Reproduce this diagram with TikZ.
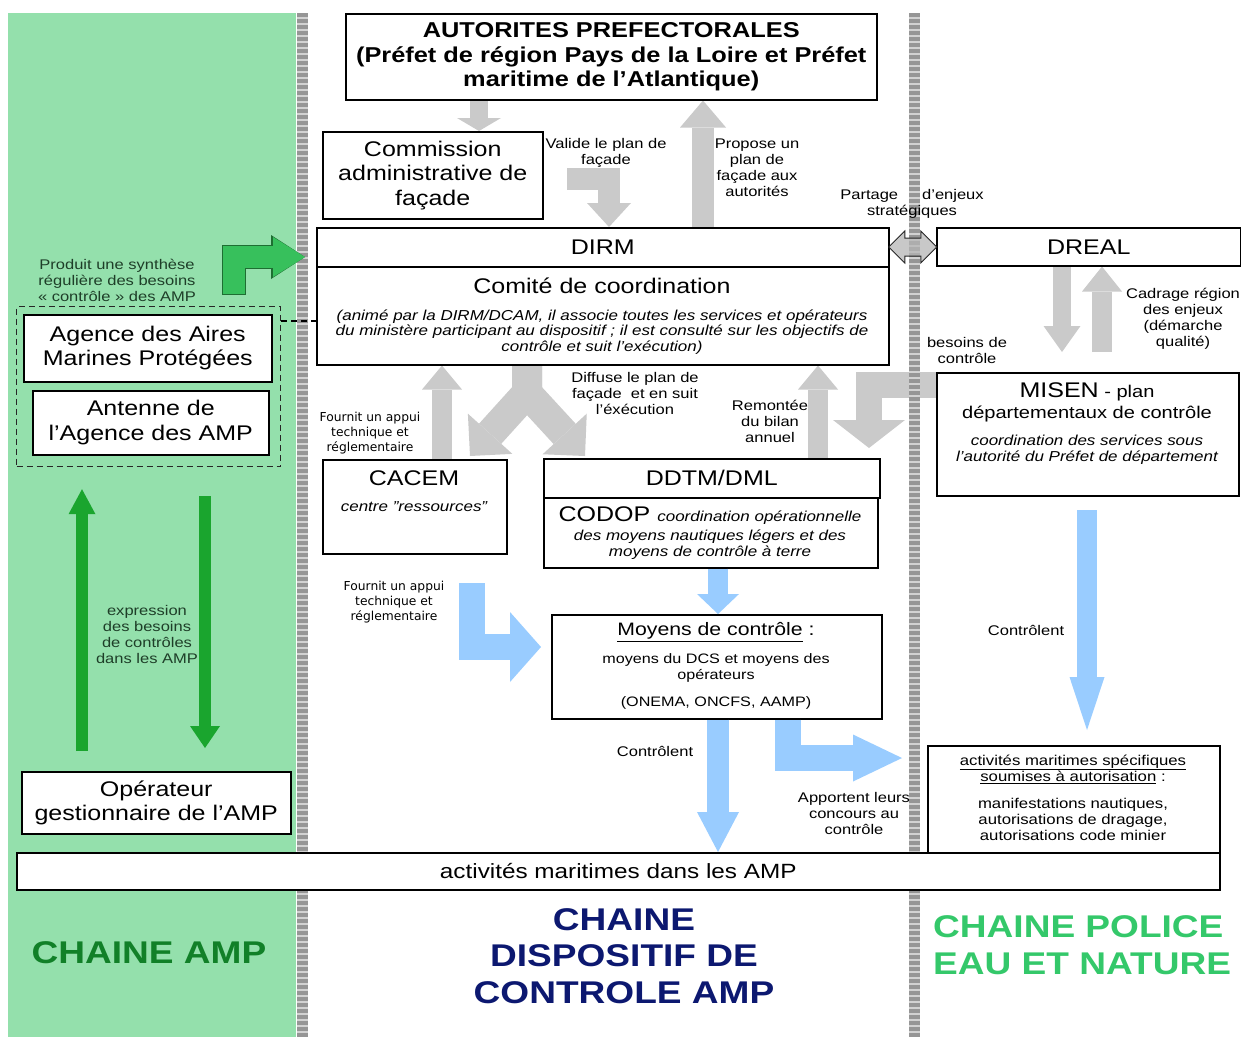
\documentclass[tikz,border=0pt]{standalone}
\usepackage{fontspec}
\setmainfont{Liberation Sans}[FakeStretch=1.18]
\newfontfamily\dejavufont{DejaVu Sans}
\usetikzlibrary{arrows.meta,shapes.arrows,backgrounds,calc}

\definecolor{amppanel}{RGB}{148,224,172}
\definecolor{arrowgray}{RGB}{202,202,202}
\definecolor{arrowblue}{RGB}{153,204,255}
\definecolor{ampgreen}{RGB}{26,165,46}
\definecolor{synthgreen}{RGB}{55,192,92}
\definecolor{synthedge}{RGB}{30,110,50}
\definecolor{notegreen}{RGB}{30,62,40}
\definecolor{titlegreen}{RGB}{17,128,40}
\definecolor{titlenavy}{RGB}{12,24,112}
\definecolor{titlelight}{RGB}{52,200,106}
\definecolor{divgray}{RGB}{150,150,150}

\newcommand{\boxtxt}{\fontsize{21.2}{24.5}\selectfont}
\newcommand{\titletxt}{\fontsize{21.5}{24.5}\selectfont\bfseries}
\newcommand{\notetxt}{\fontsize{14}{16}\selectfont}
\newcommand{\ittxt}{\fontsize{14.4}{15.8}\selectfont\itshape}
\newcommand{\subtxt}{\fontsize{17}{21}\selectfont}
\newcommand{\smalltxt}{\fontsize{13.7}{16}\selectfont}
\newcommand{\appuitxt}{\dejavufont\fontsize{12.3}{15}\selectfont}
\newcommand{\chaintxt}{\fontsize{31.4}{36.5}\selectfont\bfseries}

\tikzset{
  box/.style={draw=black, line width=1.5pt, fill=white, inner sep=0pt, align=center, anchor=north west, font=\boxtxt},
  txt/.style={inner sep=0pt, align=center},
  note/.style={txt, font=\notetxt},
  appui/.style={txt, font=\appuitxt},
  grayflow/.style={draw=arrowgray, line join=miter},
  blueflow/.style={draw=arrowblue, line join=miter},
  flowtip/.style 2 args={-{Triangle[length=#1,width=#2,line width=0pt]}},
  divider/.style={draw=divgray, line width=11pt, dash pattern=on 4pt off 2pt},
}

\begin{document}
\begin{tikzpicture}[x=1pt,y=-1pt]
\useasboundingbox (0,0) rectangle (1241,1037);

% boites
\node[box, font=\titletxt, minimum width=531pt, minimum height=86pt] (autorites) at (345,13) {AUTORITES PREFECTORALES\\(Préfet de région Pays de la Loire et Préfet\\maritime de l'Atlantique)};
\node[box, minimum width=220pt, minimum height=87pt] (commission) at (322,131) {Commission\\administrative de\\façade};
\node[box, minimum width=572pt, minimum height=39pt] (dirm) at (316,227) {DIRM};
\node[box, minimum width=572pt, minimum height=98pt] (comite) at (316,266) {};
\node[txt, font=\boxtxt] (comitetitle) at (602,286) {Comité de coordination};
\node[txt, font=\ittxt] (comitetext) at (602,332) {(animé par la DIRM/DCAM, il associe toutes les services et opérateurs\\du ministère participant au dispositif ; il est consulté sur les objectifs de\\contrôle et suit l'exécution)};
\node[box, minimum width=304pt, minimum height=38pt] (dreal) at (936,227) {DREAL};
\node[box, minimum width=302pt, minimum height=123pt] (misen) at (936,372) {};
\node[txt, font=\subtxt] (misentitle) at (1087,402) {{\boxtxt MISEN} - plan\\départementaux de contrôle};
\node[txt, font=\ittxt] (misentext) at (1087,450) {coordination des services sous\\l'autorité du Préfet de département};
\node[box, minimum width=184pt, minimum height=94pt] (cacem) at (322,459) {};
\node[txt, font=\boxtxt] (cacemtitle) at (414,478) {CACEM};
\node[txt, font=\ittxt] (cacemtext) at (414,507) {centre "ressources"};
\node[box, minimum width=336pt, minimum height=39pt] (ddtm) at (543,458) {DDTM/DML};
\node[box, minimum width=334pt, minimum height=70pt] (codop) at (543,497) {};
\node[txt, font=\boxtxt] (codoptitle) at (710,516) {CODOP {\ittxt coordination opérationnelle}};
\node[txt, font=\ittxt] (codoptext) at (710,545) {des moyens nautiques légers et des\\moyens de contrôle à terre};
\node[box, minimum width=330pt, minimum height=104pt] (moyens) at (551,614) {};
\node[txt, font=\fontsize{18}{20}\selectfont] (moyenstitle) at (716,632) {\underline{Moyens de contrôle} :};
\node[txt, font=\smalltxt] (moyenstext) at (716,668) {moyens du DCS et moyens des\\opérateurs};
\node[txt, font=\smalltxt] (moyensops) at (716,703) {(ONEMA, ONCFS, AAMP)};
\node[box, minimum width=292pt, minimum height=107pt] (specifiques) at (927,745) {};
\node[txt, font=\fontsize{14.2}{16}\selectfont] (specifhead) at (1073,769) {\underline{activités maritimes spécifiques}\\\underline{soumises à autorisation} :};
\node[txt, font=\fontsize{14.2}{16}\selectfont] (speciftext) at (1073,819) {manifestations nautiques,\\autorisations de dragage,\\autorisations code minier};
\node[box, minimum width=1203pt, minimum height=37pt, font=\fontsize{20.6}{24}\selectfont] (activites) at (16,852) {activités maritimes dans les AMP};

\node[draw=black!85, line width=1.2pt, dash pattern=on 6pt off 4pt, minimum width=264pt, minimum height=160pt, inner sep=0pt, anchor=north west] (agencegrp) at (16,306) {};
\node[box, minimum width=248pt, minimum height=67pt] (agence) at (23,314) {Agence des Aires\\Marines Protégées};
\node[box, minimum width=236pt, minimum height=64pt] (antenne) at (32,390) {Antenne de\\l'Agence des AMP};
\node[box, minimum width=269pt, minimum height=62pt] (operateur) at (21,771) {Opérateur\\gestionnaire de l'AMP};

% bouts libres des fleches
\coordinate (valstart) at (567,179);
\coordinate (drealtip) at (1062,352);
\coordinate (cadragefoot) at (1102,352);
\coordinate (diffjoin) at (527,393);
\coordinate (difftipl) at (470,456);
\coordinate (difftipr) at (585,456);
\coordinate (misentip) at (869,448);
\coordinate (synthfoot) at (234,295);
\coordinate (synthtip) at (305,257);
\coordinate (appuifoot) at (472,583);
\coordinate (appuitip) at (541,647);
\coordinate (apporttip) at (902,758);
\coordinate (policefoot) at (1087,510);
\coordinate (policetip) at (1087,730);
\coordinate (dashmeet) at (316,321);

\begin{scope}[on background layer]
  \fill[amppanel] (8,13) rectangle (296,1037);
  % flux gris
  \draw[grayflow, line width=18pt, flowtip={13pt}{44pt}] (479,0 |- autorites.south) -- (479,0 |- commission.north);
  \draw[grayflow, line width=22pt, flowtip={24pt}{44pt}] (valstart) -| (609,0 |- dirm.north);
  \draw[grayflow, line width=22pt, flowtip={27pt}{46pt}] (703,0 |- dirm.north) -- (703,0 |- autorites.south);
  \draw[grayflow, line width=18pt, flowtip={26pt}{37pt}] (1062,0 |- dreal.south) -- (drealtip);
  \draw[grayflow, line width=20pt, flowtip={25pt}{40pt}] (cadragefoot) -- (1102,0 |- dreal.south);
  \draw[grayflow, line width=26pt, flowtip={28pt}{72pt}] (misen.west |- 0,385) -| (misentip);
  \draw[grayflow, line width=20pt, flowtip={24pt}{40pt}] (442,0 |- cacem.north) -- (442,0 |- comite.south);
  \draw[grayflow, line width=30pt, line join=bevel, flowtip={30pt}{60pt}] (527,0 |- comite.south) -- (diffjoin) -- (difftipl);
  \draw[grayflow, line width=30pt, line join=bevel, flowtip={30pt}{60pt}] (527,0 |- comite.south) -- (diffjoin) -- (difftipr);
  \draw[grayflow, line width=20pt, flowtip={24pt}{40pt}] (818,0 |- ddtm.north) -- (818,0 |- comite.south);
  % separations
  \draw[gray!35, line width=11pt] (302,13) -- (302,1037);
  \draw[divider] (302,13) -- (302,1037);
  \draw[gray!35, line width=11pt] (914,13) -- (914,1037);
  \draw[divider] (914,13) -- (914,1037);
\end{scope}

\node[double arrow, draw=black!85, fill=arrowgray!90!black, fill opacity=0.75, line width=1pt, minimum height=48pt, inner xsep=0pt, inner ysep=8.5pt, double arrow head extend=7pt] (partagearrow) at ($(dirm.east)!0.5!(dreal.west)$) {};
\draw[dashed, line width=1.2pt, dash pattern=on 6pt off 4pt] (agencegrp.east |- dashmeet) -- (dashmeet);

% flux bleus
\draw[blueflow, line width=20pt, flowtip={20pt}{42pt}] (718,0 |- codop.south) -- (718,0 |- moyens.north);
\draw[blueflow, line width=26pt, flowtip={31pt}{70pt}] (appuifoot) |- (appuitip);
\draw[blueflow, line width=22pt, flowtip={40pt}{42pt}] (718,0 |- moyens.south) -- (718,0 |- activites.north);
\draw[blueflow, line width=26pt, flowtip={49pt}{47pt}] (788,0 |- moyens.south) |- (apporttip);
\draw[blueflow, line width=20pt, flowtip={53pt}{35pt}] (policefoot) -- (policetip);

% flux verts
\draw[synthedge, line width=24.5pt, line join=miter, flowtip={34pt}{44pt}] (synthfoot) |- (synthtip);
\draw[synthgreen, line width=22pt, line join=miter, shorten <=1.25pt, flowtip={32pt}{40pt}] (synthfoot) |- (synthtip);
\draw[ampgreen, line width=12pt, shorten <=20pt, shorten >=22pt, flowtip={25pt}{27pt}] (82,0 |- operateur.north) -- (82,0 |- agencegrp.south);
\draw[ampgreen, line width=12pt, shorten <=29pt, shorten >=23pt, flowtip={22pt}{30pt}] (205,0 |- agencegrp.south) -- (205,0 |- operateur.north);

% libelles
\node[note] (partage) at (912,204) {Partage\hspace{24pt}d'enjeux\\stratégiques};
\node[note, text=notegreen] (synthese) at (117,280) {Produit une synthèse\\régulière des besoins\\« contrôle » des AMP};
\node[note] (valide) at (606,153) {Valide le plan de\\façade};
\node[note] (propose) at (757,168) {Propose un\\plan de\\façade aux\\autorités};
\node[note] (cadrage) at (1183,319) {Cadrage région\\des enjeux\\(démarche\\qualité)};
\node[note] (besoins) at (967,350) {besoins de\\contrôle};
\node[appui] (appuicacem) at (370,433) {Fournit un appui\\technique et\\réglementaire};
\node[note] (diffuse) at (635,393) {Diffuse le plan de\\façade~ et en suit\\l'éxécution};
\node[note] (remontee) at (770,421) {Remontée\\du bilan\\annuel};
\node[appui] (appuimoyens) at (394,602) {Fournit un appui\\technique et\\réglementaire};
\node[note, text=notegreen] (expression) at (147,634) {expression\\des besoins\\de contrôles\\dans les AMP};
\node[note] (controlentdcs) at (655,751) {Contrôlent};
\node[note] (apportent) at (854,813) {Apportent leurs\\concours au\\contrôle};
\node[note] (controlentpol) at (1026,630) {Contrôlent};

% chaines
\node[txt, font=\chaintxt, text=titlegreen] (chaineamp) at (149,953) {CHAINE AMP};
\node[txt, font=\chaintxt, text=titlenavy] (chainedcs) at (624,956) {CHAINE\\DISPOSITIF DE\\CONTROLE AMP};
\node[txt, font=\chaintxt, text=titlelight, align=left, anchor=west] (chainepolice) at (933,945) {CHAINE POLICE\\EAU ET NATURE};
\end{tikzpicture}
\end{document}
